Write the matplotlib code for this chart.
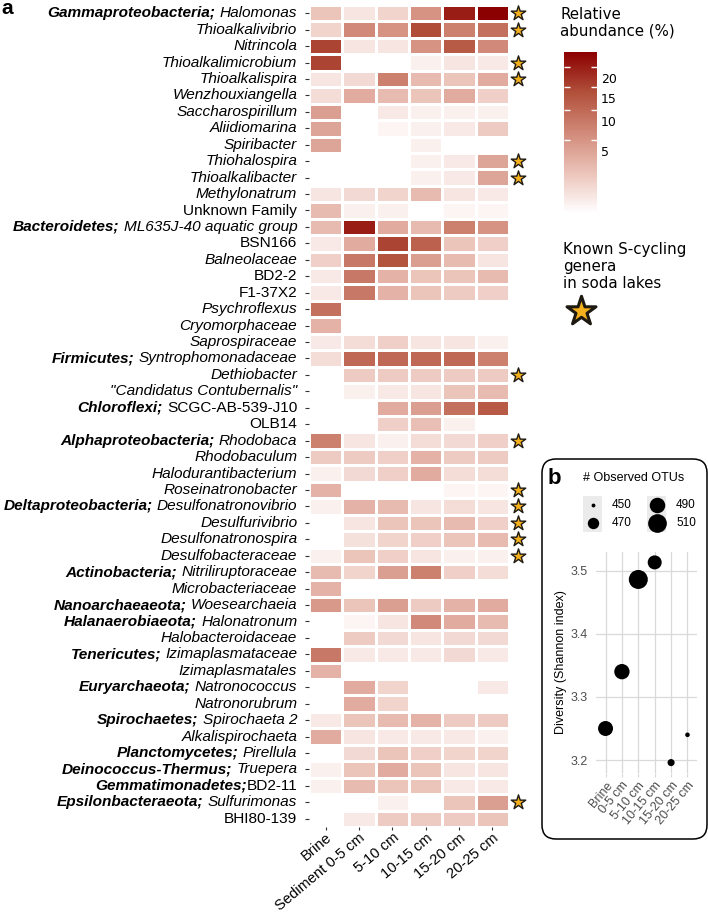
import numpy as np
import matplotlib
matplotlib.use("Agg")
import matplotlib.pyplot as plt
from matplotlib import cm
from matplotlib.colors import LinearSegmentedColormap, PowerNorm
from matplotlib.patches import FancyBboxPatch, Rectangle

plt.rcParams['font.family'] = ['Liberation Sans', 'DejaVu Sans']

# ---- panel a data ----
samples = ["Brine", "Sediment 0-5 cm", "5-10 cm", "10-15 cm", "15-20 cm", "20-25 cm"]

phyla = ["Gammaproteobacteria; ", "", "", "", "", "", "", "", "", "", "", "", "",
         "Bacteroidetes; ", "", "", "", "", "", "", "",
         "Firmicutes; ", "", "",
         "Chloroflexi; ", "",
         "Alphaproteobacteria; ", "", "", "",
         "Deltaproteobacteria; ", "", "", "",
         "Actinobacteria; ", "",
         "Nanoarchaeaeota; ",
         "Halanaerobiaeota; ", "",
         "Tenericutes; ", "",
         "Euryarchaeota; ", "",
         "Spirochaetes; ", "",
         "Planctomycetes; ",
         "Deinococcus-Thermus; ",
         "Gemmatimonadetes;",
         "Epsilonbacteraeota; ", ""]

taxa = ["Halomonas", "Thioalkalivibrio", "Nitrincola", "Thioalkalimicrobium", "Thioalkalispira",
        "Wenzhouxiangella", "Saccharospirillum", "Aliidiomarina", "Spiribacter", "Thiohalospira",
        "Thioalkalibacter", "Methylonatrum", "Unknown Family",
        "ML635J-40 aquatic group", "BSN166", "Balneolaceae", "BD2-2", "F1-37X2", "Psychroflexus",
        "Cryomorphaceae", "Saprospiraceae",
        "Syntrophomonadaceae", "Dethiobacter", '"Candidatus Contubernalis"',
        "SCGC-AB-539-J10", "OLB14",
        "Rhodobaca", "Rhodobaculum", "Halodurantibacterium", "Roseinatronobacter",
        "Desulfonatronovibrio", "Desulfurivibrio", "Desulfonatronospira", "Desulfobacteraceae",
        "Nitriliruptoraceae", "Microbacteriaceae",
        "Woesearchaeia",
        "Halonatronum", "Halobacteroidaceae",
        "Izimaplasmataceae", "Izimaplasmatales",
        "Natronococcus", "Natronorubrum",
        "Spirochaeta 2", "Alkalispirochaeta",
        "Pirellula",
        "Truepera",
        "BD2-11",
        "Sulfurimonas", "BHI80-139"]

not_italic = ["Unknown Family", "BSN166", "BD2-2", "F1-37X2", "SCGC-AB-539-J10", "OLB14",
              "BD2-11", "BHI80-139"]

s_cycling = ["Halomonas", "Thioalkalivibrio", "Thioalkalimicrobium", "Thioalkalispira",
             "Thiohalospira", "Thioalkalibacter", "Dethiobacter", "Rhodobaca",
             "Roseinatronobacter", "Desulfonatronovibrio", "Desulfurivibrio",
             "Desulfonatronospira", "Desulfobacteraceae", "Sulfurimonas"]

# relative abundance (%) per sample, rows in the order of taxa
brine = [1.5, 0.8, 15, 15, 0.3, 0.5, 4, 3.5, 3.5, 0, 0, 0.3, 2,
         2, 0.2, 1, 0.2, 0.2, 9, 2.5, 0.2,
         0.5, 0, 0, 0, 0, 7, 1.2, 0.1, 2.5,
         0.1, 0, 0, 0.1, 2, 2.5, 4.5, 0, 0, 8, 2.5,
         0, 0, 0.2, 3, 0, 0.1, 0.1, 0, 0]
sed_0_5 = [0.3, 6, 0.3, 0, 0.6, 3, 0, 0, 0, 0, 0, 0.6, 0.1,
           20, 3, 8, 8, 8, 0, 0, 0.5,
           10, 1.2, 0.1, 0, 0, 0.3, 1.2, 0.6, 0,
           2.5, 0.3, 0.4, 1.5, 0.8, 0, 1.5, 0.05, 1.2, 0.2, 0,
           3, 3, 1.5, 0.3, 0.6, 1.5, 2, 0, 0.2]
sed_5_10 = [0.8, 5, 0.3, 0, 7, 2, 0.2, 0.05, 0, 0, 0, 0.8, 0.1,
            3, 15, 13, 2.5, 2.5, 0, 0, 1,
            10, 1.2, 0.2, 3, 1, 0.1, 1, 1, 0,
            2, 1.5, 0.8, 1, 4, 0, 4, 0.3, 0.6, 0.2, 0,
            0.8, 0.8, 2, 0.2, 1.5, 3, 1.5, 0.1, 1.2]
sed_10_15 = [5, 14, 5, 0.1, 2, 1.5, 0.1, 0.1, 0.1, 0.1, 0.1, 2, 0,
             2, 11, 4, 1.5, 1.5, 0, 0, 0.3,
             10, 1.2, 0.3, 4, 1.8, 0.5, 2.5, 3, 0,
             0.3, 1.5, 1, 0.3, 7, 0, 1.2, 6, 0.3, 0.2, 0,
             0, 0, 2.5, 0.2, 1, 1.5, 1.5, 0, 1.2]
sed_15_20 = [20, 7, 12, 0.3, 1.5, 3, 0.1, 0.2, 0, 0.2, 0.2, 0.3, 0.05,
             7, 1.5, 2, 1.5, 1.2, 0, 0, 0.3,
             10, 1.2, 1.5, 9, 0.1, 0.6, 1.2, 0.5, 0.05,
             0.5, 2, 1.5, 0.1, 1, 0, 2.5, 3, 0.6, 0.6, 0,
             0, 0, 1.2, 0.2, 0.8, 0.3, 0.2, 1.5, 1.2]
sed_20_25 = [24.3, 9, 6, 0.2, 3, 1, 0.1, 1.2, 0, 3.5, 3.5, 0.2, 0.05,
             5, 1, 0.3, 2, 1, 0, 0, 0.1,
             7, 1.2, 2, 12, 0, 1, 1.2, 0.5, 0.05,
             0.3, 1, 2, 0.1, 0.5, 0, 3, 2, 0.6, 0.2, 0,
             0.2, 0, 1.2, 0.1, 0.8, 0.3, 0.2, 4, 1.5]

cbar_ticks = [5, 10, 15, 20]
abund_max = 24.3

# ---- panel b data ----
samples_b = ["Brine", "0-5 cm", "5-10 cm", "10-15 cm", "15-20 cm", "20-25 cm"]
shannon = [3.250, 3.340, 3.486, 3.513, 3.196, 3.240]
otus = [487, 489, 512, 482, 456, 451]
otu_breaks = [450, 470, 490, 510]


def otu_size(v):
    # marker area (pt^2) for a number of OTUs
    d_px = 0.6 + 2.3 * np.sqrt(np.asarray(v, dtype=float) - 448)
    return (0.72 * d_px) ** 2


W, H = 708, 913
fig = plt.figure(figsize=(W / 100, H / 100), dpi=100)


def frac(x0, y0, x1, y1):
    return [x0 / W, 1 - y1 / H, (x1 - x0) / W, (y1 - y0) / H]


cmap = LinearSegmentedColormap.from_list(
    "wdr", ["#ffffff", "#ebc3b9", "#d18978", "#b1503b", "#8b0000"])
norm = PowerNorm(gamma=0.5, vmin=0, vmax=abund_max)

# ---- heatmap ----
ax = fig.add_axes(frac(309, 5, 509, 827))
abund = np.column_stack([brine, sed_0_5, sed_5_10, sed_10_15, sed_15_20, sed_20_25])
ax.pcolormesh(abund, cmap=cmap, norm=norm, edgecolors="white", linewidth=1.0)
ax.set_xlim(0, len(samples))
ax.set_ylim(len(taxa), 0)
for s in ax.spines.values():
    s.set_visible(False)
ax.set_xticks(np.arange(len(samples)) + 0.5)
ax.set_xticklabels(samples, rotation=40, ha="right", rotation_mode="anchor", fontsize=10.6)
ax.set_yticks(np.arange(len(taxa)) + 0.5)
ax.set_yticklabels([])
ax.tick_params(axis="both", length=3, color="#333333", width=0.8)
ax.tick_params(axis="x", pad=0, length=2.5)

for i, (ph, name) in enumerate(zip(phyla, taxa)):
    style = "normal" if name in not_italic else "italic"
    t = ax.annotate(name, xy=(0, i + 0.5), xycoords=ax.get_yaxis_transform(),
                    xytext=(-8.5, 0), textcoords="offset points",
                    ha="right", va="center", fontsize=11.1, fontstyle=style)
    if ph:
        gap = 3.0 if ph.endswith(" ") else 0
        ax.annotate(ph.strip(), xy=(0, 0), xycoords=t, xytext=(-gap, 0),
                    textcoords="offset points", ha="right", va="bottom",
                    fontsize=11.1, fontweight="bold", fontstyle="italic")

star_rows = [i + 0.5 for i, name in enumerate(taxa) if name in s_cycling]
ax.scatter(np.full(len(star_rows), len(samples) + 0.28), star_rows, marker="*", s=120,
           color="#f5b01e", edgecolor="#1e1a12", linewidth=1.0, clip_on=False, zorder=5)

# ---- colour bar ----
cax = fig.add_axes(frac(564, 52, 597, 213))
cb = fig.colorbar(cm.ScalarMappable(norm=norm, cmap=cmap), cax=cax)
cb.outline.set_visible(False)
cb.set_ticks(cbar_ticks)
cax.tick_params(direction="in", color="white", length=4, width=1,
                left=True, right=True, labelleft=False, labelright=False)
for v in cbar_ticks:
    cax.annotate(str(v), xy=(1, v), xycoords=cax.get_yaxis_transform(),
                 xytext=(3, -9), textcoords="offset points", ha="left", va="center",
                 fontsize=9, family="DejaVu Sans")

# ---- panel b ----
bx = fig.add_axes(frac(595.7, 552.3, 697.3, 772.7))
bx.scatter(np.arange(len(samples_b)), shannon, s=otu_size(otus), color="black",
           linewidth=0, zorder=3)
bx.set_xlim(-0.6, len(samples_b) - 0.4)
bx.set_ylim(3.18, 3.529)
bx.set_yticks([3.2, 3.3, 3.4, 3.5])
bx.set_yticklabels(["3.2", "3.3", "3.4", "3.5"])
bx.set_xticks(np.arange(len(samples_b)))
bx.set_xticklabels(samples_b, rotation=50, ha="right", rotation_mode="anchor")
bx.grid(True, color="#d9d9d9", linewidth=0.9)
bx.set_axisbelow(True)
for s in bx.spines.values():
    s.set_visible(False)
bx.tick_params(axis="y", length=0, pad=5.5, labelsize=9, labelcolor="#4d4d4d")
bx.tick_params(axis="x", length=3, color="#d9d9d9", pad=2, labelsize=9, labelcolor="#4d4d4d")
bx.set_ylabel("Diversity (Shannon index)", fontsize=9, labelpad=3)

# ---- overlay in pixel coordinates: labels, legends, frame ----
ov = fig.add_axes([0, 0, 1, 1])
ov.set_xlim(0, W)
ov.set_ylim(H, 0)
ov.axis("off")

ov.text(1, 9, "a", fontsize=15, fontweight="bold", ha="left", va="center")
ov.text(560, 7, "Relative\nabundance (%)", ha="left", va="top", fontsize=10.8,
        family="DejaVu Sans", linespacing=1.15)
ov.text(563, 242, "Known S-cycling\ngenera\nin soda lakes", ha="left", va="top",
        fontsize=10.8, family="DejaVu Sans", linespacing=1.15)
ov.scatter([581], [311], marker="*", s=480, color="#f5b01e", edgecolor="#1e1a12",
           linewidth=2.2)

ov.add_patch(FancyBboxPatch((542, 459), 165, 380, boxstyle="round,pad=0,rounding_size=14",
                            facecolor="none", edgecolor="black", linewidth=1.1))
ov.text(548, 478, "b", fontsize=16, fontweight="bold", ha="left", va="center")
ov.text(583, 478, "# Observed OTUs", fontsize=9, ha="left", va="center")
key_pos = [(592.5, 505), (592.5, 523.5), (656.5, 505), (656.5, 523.5)]
for (kx, ky), br in zip(key_pos, otu_breaks):
    ov.add_patch(Rectangle((kx - 9.5, ky - 9), 19, 18, facecolor="#ebebeb", edgecolor="none"))
    ov.scatter([kx], [ky], s=otu_size(br), color="black", linewidth=0)
    ov.text(kx + 19.5, ky, str(br), fontsize=8.5, ha="left", va="center")

fig.savefig("out.png", dpi=100)
